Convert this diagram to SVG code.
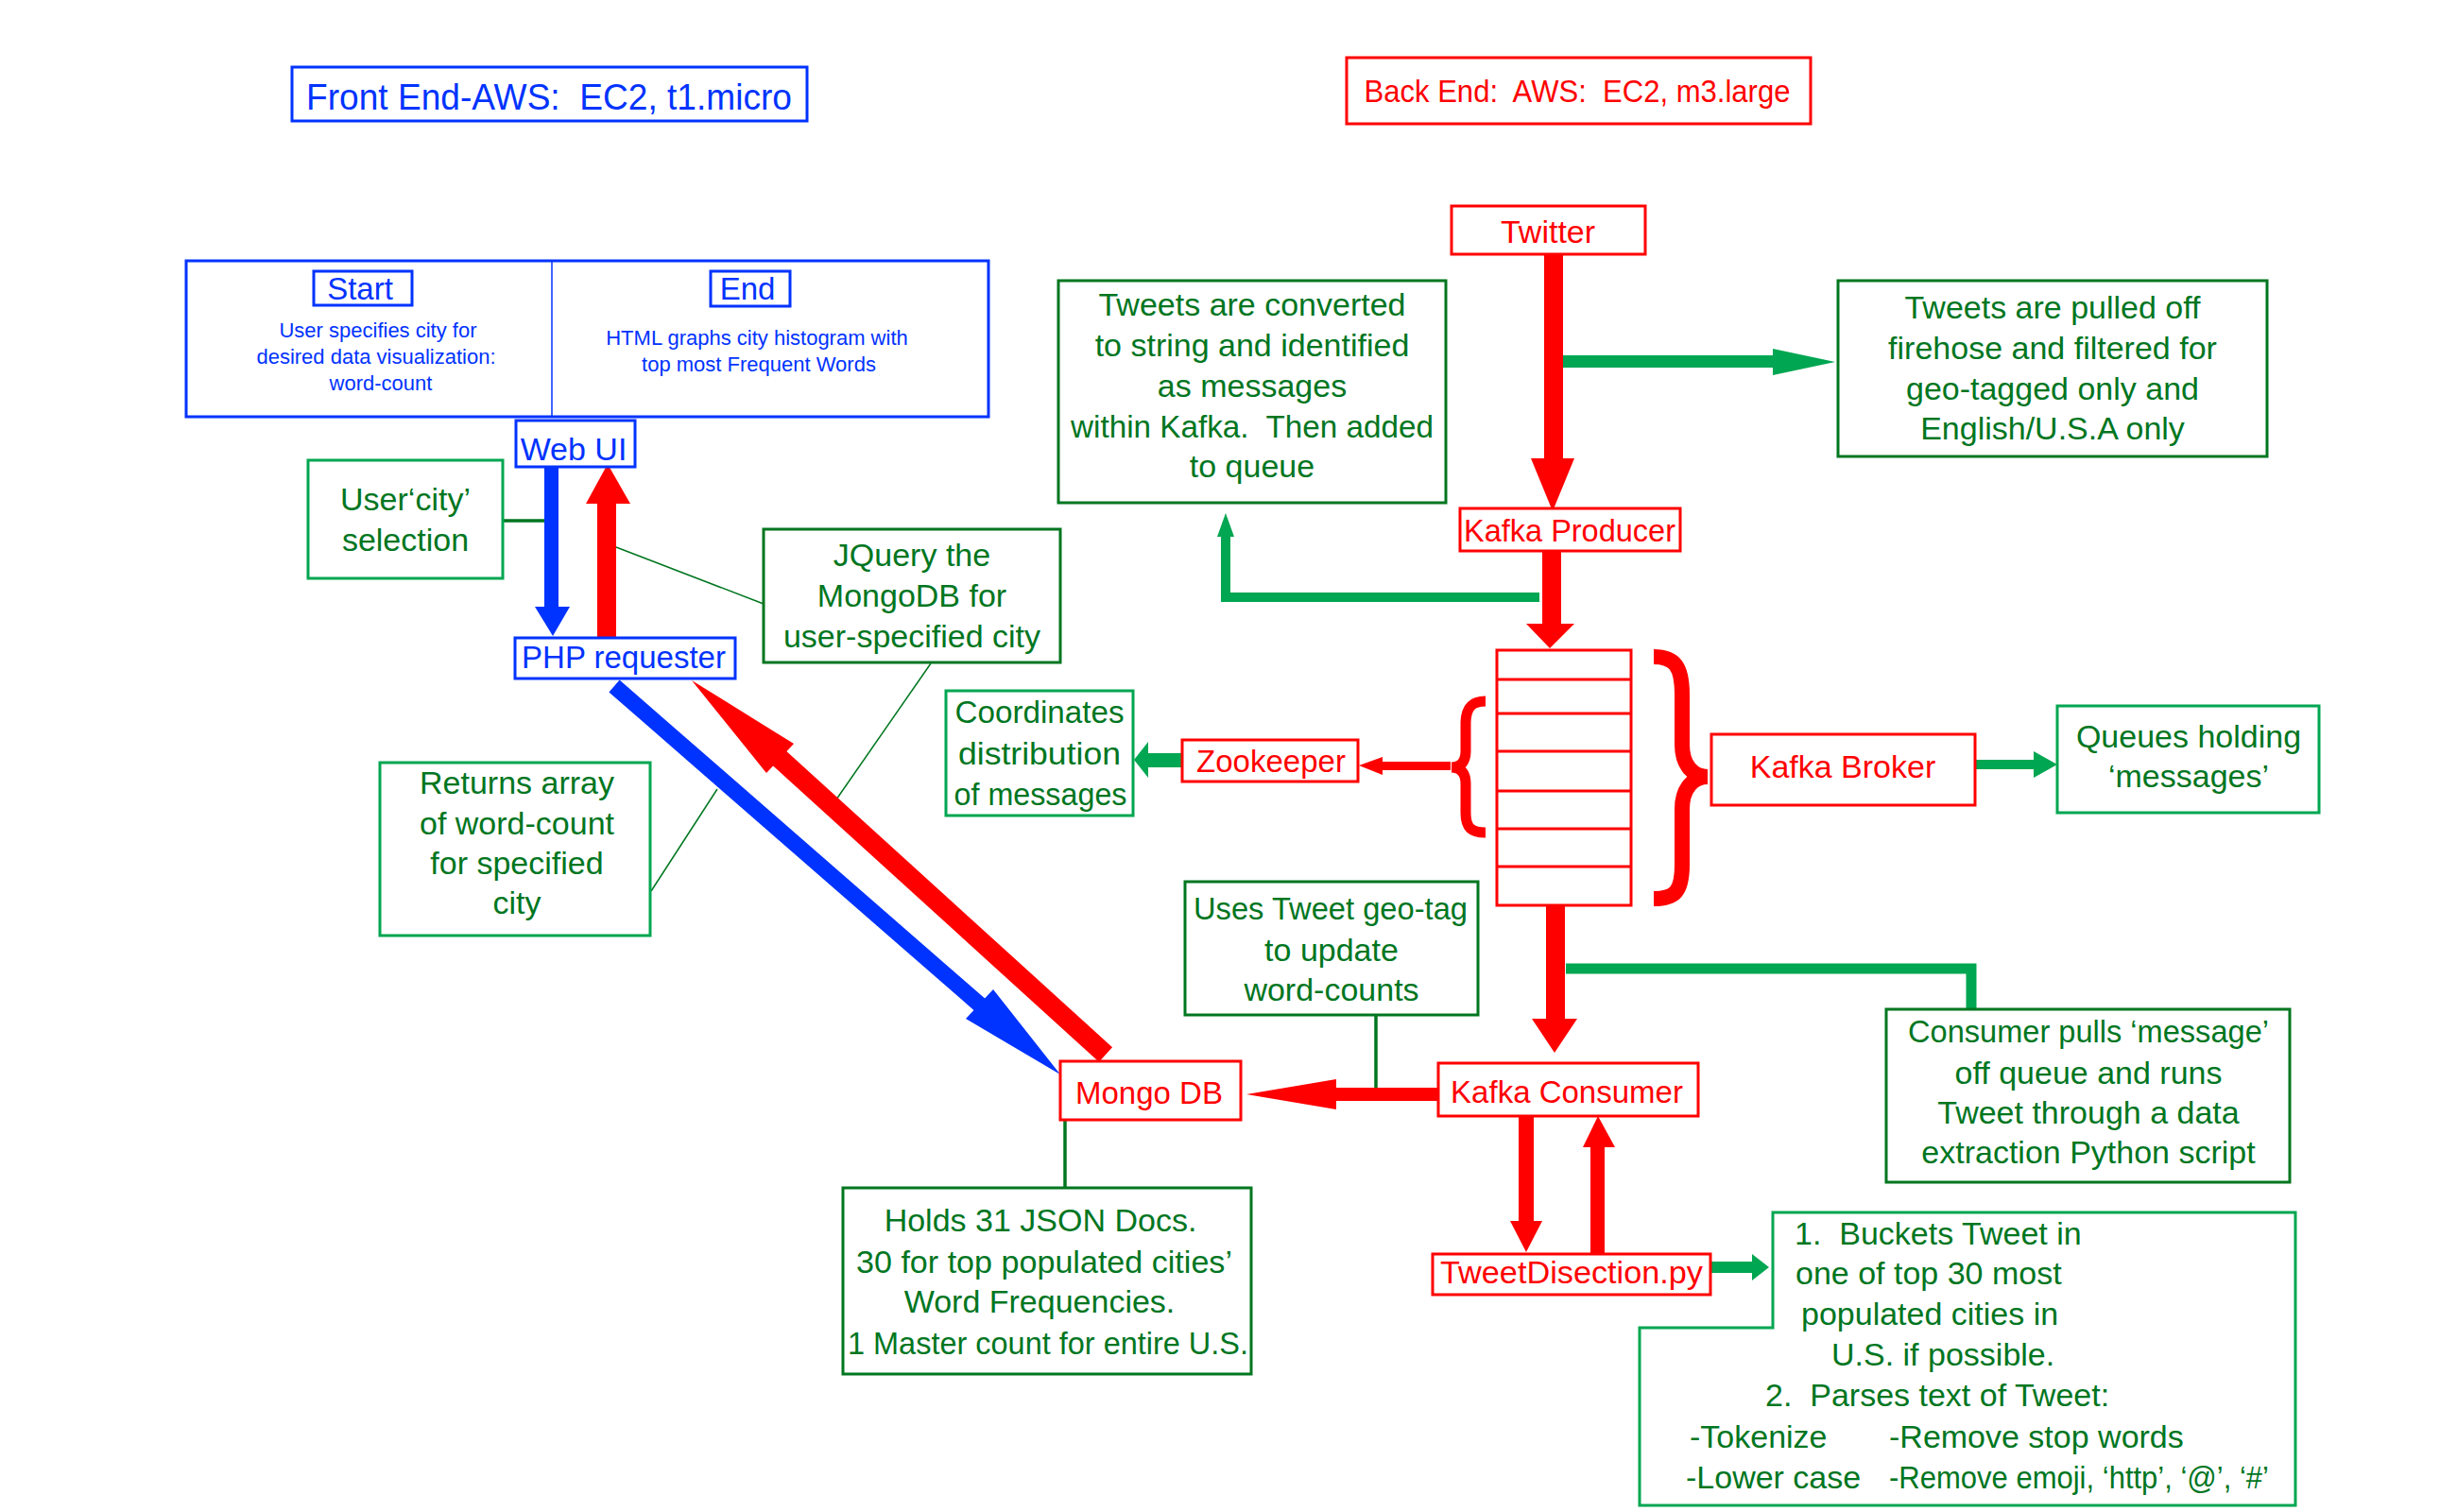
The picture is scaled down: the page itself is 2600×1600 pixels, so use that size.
<svg xmlns="http://www.w3.org/2000/svg" width="2600" height="1600" viewBox="0 0 2600 1600">
<style>
text{font-family:"Liberation Sans",Arial,sans-serif}
.box{fill:#fff;stroke-width:3}
.bb{stroke:#0033ff}
.rb{stroke:#ff0000}
.gb{stroke:#00761f}
.lg{stroke:#00a651}
.bt{fill:#0033ff;text-anchor:middle}
.rt{fill:#ff0000;text-anchor:middle;font-size:33px}
.gt{fill:#00761f;text-anchor:middle;font-size:34px}
.gl{fill:#00761f;font-size:34px}
.thin{stroke:#00761f;stroke-width:1.5;fill:none}
.lead{stroke:#00761f;stroke-width:3.5;fill:none}
.red{fill:#ff0000}
.blue{fill:#0033ff}
.grn{fill:#00a651}
</style>
<rect width="2600" height="1600" fill="#fff"/>

<g id="connectors">
  <line class="lead" x1="532" y1="551" x2="577" y2="551"/>
  <line class="thin" x1="652" y1="579" x2="808" y2="639"/>
  <line class="thin" x1="985" y1="702" x2="885" y2="846"/>
  <line class="thin" x1="689" y1="943" x2="759" y2="835"/>
  <line class="lead" x1="1456" y1="1074" x2="1456" y2="1151"/>
  <line class="lead" x1="1127" y1="1185" x2="1127" y2="1257"/>
  <rect class="blue" x="576" y="494" width="15" height="150"/>
  <polygon class="blue" points="566,642 603,642 585,673"/>
  <rect class="red" x="632" y="530" width="20" height="145"/>
  <polygon class="red" points="620,533 667,533 643,491"/>
  <line x1="650" y1="726" x2="1040" y2="1066" stroke="#0033ff" stroke-width="17"/>
  <polygon class="blue" points="1022,1078 1051,1047 1122,1137"/>
  <line x1="1170" y1="1116" x2="820" y2="798" stroke="#ff0000" stroke-width="21"/>
  <polygon class="red" points="840,787 811,818 732,720"/>
  <rect class="red" x="1634" y="269" width="20" height="218"/>
  <polygon class="red" points="1620,485 1666,485 1643,541"/>
  <rect class="grn" x="1654" y="376" width="224" height="13"/>
  <polygon class="grn" points="1876,369 1876,397 1942,383"/>
  <rect class="red" x="1632" y="583" width="20" height="80"/>
  <polygon class="red" points="1615,660 1666,660 1640,686"/>
  <polyline points="1629,632 1297,632 1297,565" fill="none" stroke="#00a651" stroke-width="10"/>
  <polygon class="grn" points="1288,568 1306,568 1297,543"/>
  <rect class="red" x="1460" y="806" width="75" height="9"/>
  <polygon class="red" points="1463,801 1463,820 1438,810"/>
  <rect class="grn" x="1213" y="797" width="39" height="15"/>
  <polygon class="grn" points="1215,785 1215,823 1200,804"/>
  <rect class="grn" x="2090" y="804" width="66" height="10"/>
  <polygon class="grn" points="2152,795 2152,823 2177,809"/>
  <rect class="red" x="1636" y="956" width="20" height="124"/>
  <polygon class="red" points="1621,1078 1669,1078 1645,1114"/>
  <polyline points="1657,1025 2086,1025 2086,1068" fill="none" stroke="#00a651" stroke-width="11"/>
  <rect class="red" x="1411" y="1151" width="112" height="14"/>
  <polygon class="red" points="1414,1142 1414,1174 1319,1158"/>
  <rect class="red" x="1607" y="1181" width="16" height="113"/>
  <polygon class="red" points="1598,1292 1632,1292 1615,1325"/>
  <rect class="red" x="1683" y="1210" width="15" height="117"/>
  <polygon class="red" points="1675,1214 1709,1214 1691,1181"/>
  <rect class="grn" x="1811" y="1335" width="45" height="12"/>
  <polygon class="grn" points="1854,1327 1854,1355 1872,1341"/>
</g>

<g id="frontend-title">
  <rect class="box bb" x="309" y="71" width="545" height="57"/>
  <text class="bt" x="581" y="116" font-size="39" textLength="514" lengthAdjust="spacingAndGlyphs" xml:space="preserve">Front End-AWS:  EC2, t1.micro</text>
</g>

<g id="backend-title">
  <rect class="box rb" x="1425" y="61" width="491" height="70"/>
  <text class="rt" x="1669" y="108" style="font-size:34px" textLength="451" lengthAdjust="spacingAndGlyphs" xml:space="preserve">Back End:  AWS:  EC2, m3.large</text>
</g>

<g id="start-end">
  <rect class="box bb" x="197" y="276" width="849" height="165"/>
  <line x1="584" y1="276" x2="584" y2="441" stroke="#0033ff" stroke-width="1.5"/>
  <rect class="box bb" x="332" y="287" width="104" height="36"/>
  <text class="bt" x="381" y="317" font-size="33">Start</text>
  <text class="bt" x="400" y="357" font-size="22">User specifies city for</text>
  <text class="bt" x="398" y="385" font-size="22">desired data visualization:</text>
  <text class="bt" x="403" y="413" font-size="22">word-count</text>
  <rect class="box bb" x="752" y="287" width="84" height="37"/>
  <text class="bt" x="791" y="317" font-size="33">End</text>
  <text class="bt" x="801" y="365" font-size="22">HTML graphs city histogram with</text>
  <text class="bt" x="803" y="393" font-size="22">top most Frequent Words</text>
</g>

<g id="webui">
  <rect class="box bb" x="546" y="445" width="126" height="49"/>
  <text class="bt" x="607" y="487" font-size="34">Web UI</text>
</g>

<g id="php">
  <rect class="box bb" x="545" y="675" width="233" height="43"/>
  <text class="bt" x="660" y="707" font-size="33">PHP requester</text>
</g>

<g id="user-city">
  <rect class="box lg" x="326" y="487" width="206" height="125"/>
  <text class="gt" x="429" y="540">User‘city’</text>
  <text class="gt" x="429" y="583">selection</text>
</g>

<g id="jquery">
  <rect class="box gb" x="808" y="560" width="314" height="141"/>
  <text class="gt" x="965" y="599">JQuery the</text>
  <text class="gt" x="965" y="642">MongoDB for</text>
  <text class="gt" x="965" y="685">user-specified city</text>
</g>

<g id="returns">
  <rect class="box lg" x="402" y="807" width="286" height="183"/>
  <text class="gt" x="547" y="840">Returns array</text>
  <text class="gt" x="547" y="883">of word-count</text>
  <text class="gt" x="547" y="925">for specified</text>
  <text class="gt" x="547" y="967">city</text>
</g>

<g id="tweets-converted">
  <rect class="box gb" x="1120" y="297" width="410" height="235"/>
  <text class="gt" x="1325" y="334">Tweets are converted</text>
  <text class="gt" x="1325" y="377">to string and identified</text>
  <text class="gt" x="1325" y="420">as messages</text>
  <text class="gt" x="1325" y="463" textLength="384" lengthAdjust="spacingAndGlyphs" xml:space="preserve">within Kafka.  Then added</text>
  <text class="gt" x="1325" y="505">to queue</text>
</g>

<g id="twitter">
  <rect class="box rb" x="1536" y="218" width="205" height="51"/>
  <text class="rt" x="1638" y="257" style="font-size:34px">Twitter</text>
</g>

<g id="tweets-pulled">
  <rect class="box gb" x="1945" y="297" width="454" height="186"/>
  <text class="gt" x="2172" y="337">Tweets are pulled off</text>
  <text class="gt" x="2172" y="380">firehose and filtered for</text>
  <text class="gt" x="2172" y="423">geo-tagged only and</text>
  <text class="gt" x="2172" y="465">English/U.S.A only</text>
</g>

<g id="producer">
  <rect class="box rb" x="1545" y="538" width="233" height="45"/>
  <text class="rt" x="1661" y="573" textLength="224" lengthAdjust="spacingAndGlyphs">Kafka Producer</text>
</g>

<g id="queue-stack">
  <rect class="box rb" x="1584" y="688" width="142" height="270"/>
  <g stroke="#ff0000" stroke-width="3">
    <line x1="1584" y1="719" x2="1726" y2="719"/>
    <line x1="1584" y1="755" x2="1726" y2="755"/>
    <line x1="1584" y1="795" x2="1726" y2="795"/>
    <line x1="1584" y1="837" x2="1726" y2="837"/>
    <line x1="1584" y1="877" x2="1726" y2="877"/>
    <line x1="1584" y1="917" x2="1726" y2="917"/>
  </g>
  <path d="M1572,742 C1557,742 1551,749 1551,766 L1551,795 C1551,806 1546,812 1536,812 C1546,812 1551,818 1551,829 L1551,860 C1551,876 1557,881 1572,881" fill="none" stroke="#ff0000" stroke-width="11"/>
  <path d="M1750,695 C1772,695 1780,705 1780,735 L1780,788 C1780,810 1792,822 1807,822 C1792,822 1780,834 1780,856 L1780,915 C1780,944 1772,951 1750,951" fill="none" stroke="#ff0000" stroke-width="16"/>
</g>

<g id="zookeeper">
  <rect class="box rb" x="1251" y="783" width="186" height="44"/>
  <text class="rt" x="1345" y="817">Zookeeper</text>
</g>

<g id="coordinates">
  <rect class="box lg" x="1001" y="731" width="198" height="132"/>
  <text class="gt" x="1100" y="765" textLength="179" lengthAdjust="spacingAndGlyphs">Coordinates</text>
  <text class="gt" x="1100" y="809" textLength="172" lengthAdjust="spacingAndGlyphs">distribution</text>
  <text class="gt" x="1101" y="852" textLength="183" lengthAdjust="spacingAndGlyphs">of messages</text>
</g>

<g id="broker">
  <rect class="box rb" x="1811" y="777" width="279" height="75"/>
  <text class="rt" x="1950" y="823" style="font-size:34px">Kafka Broker</text>
</g>

<g id="queues-holding">
  <rect class="box lg" x="2177" y="747" width="277" height="113"/>
  <text class="gt" x="2316" y="791">Queues holding</text>
  <text class="gt" x="2316" y="833">‘messages’</text>
</g>

<g id="geo-tag">
  <rect class="box gb" x="1254" y="933" width="310" height="141"/>
  <text class="gt" x="1408" y="973" textLength="290" lengthAdjust="spacingAndGlyphs">Uses Tweet geo-tag</text>
  <text class="gt" x="1409" y="1017">to update</text>
  <text class="gt" x="1409" y="1059">word-counts</text>
</g>

<g id="consumer-pulls">
  <rect class="box gb" x="1996" y="1068" width="427" height="183"/>
  <text class="gt" x="2210" y="1103" textLength="382" lengthAdjust="spacingAndGlyphs">Consumer pulls ‘message’</text>
  <text class="gt" x="2210" y="1147">off queue and runs</text>
  <text class="gt" x="2210" y="1189">Tweet through a data</text>
  <text class="gt" x="2210" y="1231">extraction Python script</text>
</g>

<g id="consumer">
  <rect class="box rb" x="1522" y="1125" width="275" height="56"/>
  <text class="rt" x="1658" y="1167">Kafka Consumer</text>
</g>

<g id="mongo">
  <rect class="box rb" x="1122" y="1123" width="191" height="62"/>
  <text class="rt" x="1216" y="1168">Mongo DB</text>
</g>

<g id="holds">
  <rect class="box gb" x="892" y="1257" width="432" height="197"/>
  <text class="gt" x="1101" y="1303">Holds 31 JSON Docs.</text>
  <text class="gt" x="1105" y="1347" textLength="398" lengthAdjust="spacingAndGlyphs">30 for top populated cities’</text>
  <text class="gt" x="1100" y="1389">Word Frequencies.</text>
  <text class="gt" x="1109" y="1433" textLength="424" lengthAdjust="spacingAndGlyphs">1 Master count for entire U.S.</text>
</g>

<g id="tweetdisection">
  <rect class="box rb" x="1516" y="1327" width="294" height="43"/>
  <text class="rt" x="1663" y="1358" style="font-size:34px" textLength="278" lengthAdjust="spacingAndGlyphs">TweetDisection.py</text>
</g>

<g id="dissection-steps">
  <path class="box lg" d="M1876,1283 L2429,1283 L2429,1593 L1735,1593 L1735,1405 L1876,1405 Z"/>
  <text class="gl" x="1899" y="1317" xml:space="preserve">1.  Buckets Tweet in</text>
  <text class="gl" x="1900" y="1359">one of top 30 most</text>
  <text class="gl" x="1906" y="1402">populated cities in</text>
  <text class="gl" x="1938" y="1445">U.S. if possible.</text>
  <text class="gl" x="1868" y="1488" xml:space="preserve">2.  Parses text of Tweet:</text>
  <text class="gl" x="1788" y="1532">-Tokenize</text>
  <text class="gl" x="1999" y="1532">-Remove stop words</text>
  <text class="gl" x="1784" y="1575">-Lower case</text>
  <text class="gl" x="1999" y="1575" textLength="402" lengthAdjust="spacingAndGlyphs">-Remove emoji, ‘http’, ‘@’, ‘#’</text>
</g>
</svg>
